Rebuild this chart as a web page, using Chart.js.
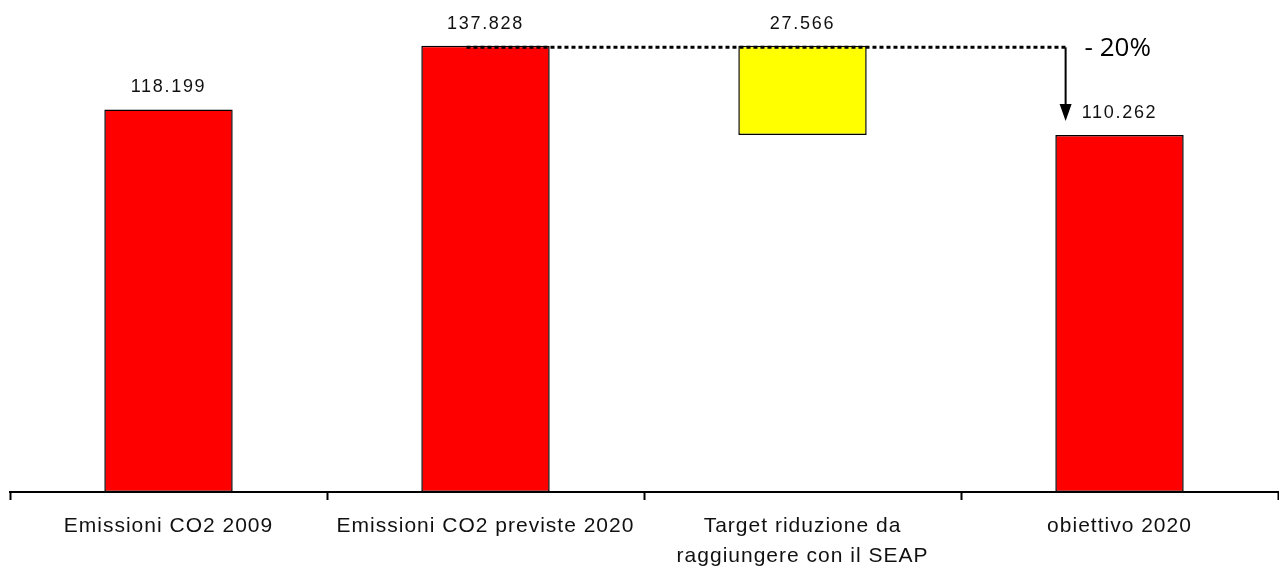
<!DOCTYPE html>
<html>
<head>
<meta charset="utf-8">
<script src="https://cdn.jsdelivr.net/npm/chart.js@4/dist/chart.umd.min.js"></script>
<style>
  html, body { margin: 0; padding: 0; background: #fff; }
  #wrap { width: 1279px; height: 570px; }
</style>
</head>
<body>
<div id="wrap"><canvas id="myChart" width="1279" height="570"></canvas></div>
<script>
// dati (t CO2)
const categorie = ['Emissioni CO2 2009', 'Emissioni CO2 previste 2020', ['Target riduzione da', 'raggiungere con il SEAP'], 'obiettivo 2020'];
const basi = [0, 0, 110262, 0];
const cime = [118199, 137828, 137828, 110262];
const colori = ['#ff0000', '#ff0000', '#ffff00', '#ff0000'];
const etichettaRiduzione = '- 20%';

function formatta(n) {
    return String(n).replace(/\B(?=(\d{3})+(?!\d))/g, '.');
}

const dati = basi.map((b, i) => [b, cime[i]]);

// etichette sopra le barre + linea tratteggiata e freccia
const decorazioni = {
    id: 'decorazioni',
    beforeDraw(chart) {
        chart.ctx.letterSpacing = '1px';
    },
    afterDatasetsDraw(chart) {
        const ctx = chart.ctx;
        const x = chart.scales.x;
        const y = chart.scales.y;
        const meta = chart.getDatasetMeta(0);
        const catW = x.getPixelForValue(1) - x.getPixelForValue(0);

        ctx.save();
        ctx.letterSpacing = '1.7px';
        ctx.font = '18px "Liberation Sans", Arial, sans-serif';
        ctx.fillStyle = '#111';
        ctx.textAlign = 'center';
        ctx.textBaseline = 'middle';
        meta.data.forEach((bar, i) => {
            const v = cime[i] - basi[i];
            ctx.fillText(formatta(v), bar.x, y.getPixelForValue(cime[i]) - 22);
        });
        ctx.restore();

        // linea tratteggiata
        const yTop = y.getPixelForValue(cime[1]) + 1.5;
        const xStart = x.getPixelForValue(1) - 0.06 * catW;
        const xArrow = x.getPixelForValue(3) - 0.17 * catW;
        ctx.save();
        ctx.strokeStyle = '#000';
        ctx.lineWidth = 3;
        ctx.setLineDash([4, 3]);
        ctx.beginPath();
        ctx.moveTo(xStart, yTop);
        ctx.lineTo(xArrow + 2, yTop);
        ctx.stroke();

        // freccia
        ctx.setLineDash([]);
        ctx.lineWidth = 2;
        const yTip = y.getPixelForValue(cime[3]) - 14;
        ctx.beginPath();
        ctx.moveTo(xArrow, yTop);
        ctx.lineTo(xArrow, yTip - 14);
        ctx.stroke();
        ctx.fillStyle = '#000';
        ctx.beginPath();
        ctx.moveTo(xArrow - 6, yTip - 17);
        ctx.lineTo(xArrow + 6, yTip - 17);
        ctx.lineTo(xArrow, yTip);
        ctx.closePath();
        ctx.fill();

        ctx.letterSpacing = '0px';
        ctx.font = '26px "Open Sans", sans-serif';
        ctx.textAlign = 'left';
        ctx.textBaseline = 'middle';
        ctx.fillText(etichettaRiduzione, xArrow + 19, yTop + 1);
        ctx.restore();
    }
};

const ctx = document.getElementById('myChart').getContext('2d');
const myChart = new Chart(ctx, {
    type: 'bar',
    data: {
        labels: categorie,
        datasets: [{
            data: dati,
            backgroundColor: colori,
            borderColor: '#000',
            borderWidth: 1.5,
            borderSkipped: false,
            barPercentage: 0.405,
            categoryPercentage: 1
        }]
    },
    options: {
        responsive: false,
        animation: false,
        layout: { padding: { left: 10, right: 1, top: 0, bottom: 0 } },
        plugins: {
            legend: { display: false },
            tooltip: { enabled: false }
        },
        scales: {
            x: {
                grid: {
                    offset: true,
                    drawOnChartArea: false,
                    drawTicks: true,
                    tickLength: 8,
                    tickWidth: 2,
                    color: '#000'
                },
                border: { color: '#000', width: 2 },
                ticks: {
                    color: '#111',
                    padding: 11,
                    maxRotation: 0,
                    autoSkip: false,
                    font: { family: '"Liberation Sans", Arial, sans-serif', size: 21, lineHeight: 1.43 }
                },
                afterFit(scale) { scale.height = 78; }
            },
            y: {
                display: false,
                min: 0,
                max: 152000
            }
        }
    },
    plugins: [decorazioni]
});
</script>
</body>
</html>
